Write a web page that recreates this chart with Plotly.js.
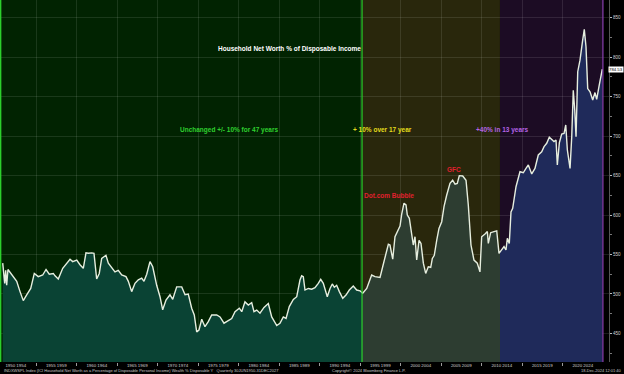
<!DOCTYPE html>
<html>
<head>
<meta charset="utf-8">
<script src="https://cdn.plot.ly/plotly-3.0.1.min.js"></script>
<style>
html,body{margin:0;padding:0;background:#000;}
#chart{width:624px;height:374px;}
</style>
</head>
<body>
<div id="chart"></div>
<script>
// Quarter-ish dates (decimal years) and Household Net Worth % of Disposable Income
const years = [
1950.89,1951.14,1951.26,1951.38,1951.54,1952.0,1952.41,1952.62,1953.03,1953.43,1953.85,1954.35,1954.79,
1955.28,1955.83,1956.24,1956.64,1957.14,1957.35,1957.75,1958.3,1958.79,1959.2,1959.53,1960.03,1960.43,1960.84,
1961.17,1961.46,1961.88,1962.16,1962.49,1962.81,1963.11,1963.64,1963.93,1964.35,1964.75,1965.16,1965.58,
1966.11,1966.4,1966.81,1967.22,1967.63,1968.05,1968.33,1968.67,1969.07,1969.41,1969.9,1970.31,1970.64,
1971.05,1971.54,1971.88,1972.37,1972.99,1973.4,1973.8,1974.22,1974.54,1974.84,1975.12,1975.46,1975.86,
1976.27,1976.69,1977.31,1977.72,1978.21,1978.74,1979.16,1979.57,1980.1,1980.4,1980.8,1981.21,1981.63,1981.91,
1982.25,1982.65,1983.15,1983.68,1984.1,1984.72,1985.12,1985.53,1985.87,1986.27,1986.77,1987.19,1987.59,1987.8,
1988.0,1988.21,1988.62,1989.04,1989.44,1989.85,1990.15,1990.47,1990.68,1990.96,1991.3,1991.58,1991.83,1992.12,
1992.45,1992.87,1993.27,1993.68,1994.17,1994.59,1995.0,1995.33,1995.83,1996.44,1996.85,1997.47,1997.8,1998.12,
1998.5,1998.7,1999.04,1999.32,1999.73,1999.94,2000.15,2000.43,2000.68,2000.84,2001.09,2001.38,2001.58,2001.79,
2002.0,2002.29,2002.53,2002.82,2003.11,2003.43,2003.73,2003.93,2004.17,2004.47,2004.75,2005.09,2005.37,2005.7,
2006.11,2006.44,2006.73,2007.01,2007.26,2007.68,2008.09,2008.37,2008.7,2009.07,2009.48,2009.81,2010.02,2010.43,
2010.72,2010.84,2011.13,2011.54,2011.88,2012.16,2012.49,2012.78,2013.02,2013.19,2013.43,2013.64,2013.85,2014.26,
2014.75,2015.16,2015.49,2015.78,2016.2,2016.6,2017.01,2017.43,2017.72,2018.05,2018.37,2018.67,2018.95,2019.2,
2019.36,2019.61,2019.9,2020.19,2020.4,2020.6,2020.93,2021.14,2021.33,2021.51,2021.67,2021.88,2022.16,2022.49,
2022.69,2022.9,2023.11,2023.4,2023.73,2024.01,2024.22,2024.54,2024.91
];
const netWorthPct = [
539,513.5,530,511,531,524,519,516,503,491.6,499,507,526,
522,524,531,525,526,523,519,532.5,539,544,541,543,537,532.5,
552,551.5,552,551.5,519,526,545,549,539,532.5,528,530,524,
522,516,503,513.5,518,520,516,525,541,534.5,511,496.6,480,
492.4,499,493.3,509,509,499,500,482,473.4,452,454.4,468,458.6,
465,473.4,473.4,471,463,466,469,477.6,482,477.6,490,486,489,477.6,
479.7,475.6,483,488,471,460,463,471,469,484,493,496.6,517.7,523,
522,505,507,506,508,513.5,518.6,513.5,507,496.6,507,512.7,508.5,511,
503,494.6,498.7,505,510,505,504,501,507,524,522,521,534.5,547,
563,562,544,572.5,580.4,586,601,615,612.7,600,595.8,572.5,562,572.5,
543,568,564,539,526,534.5,533.8,545,549,568,583,591.5,610.5,625,
640,644,639,640,649.8,649.4,644,612.7,562,543,539,528,572.5,576,
579,564,577.6,579,580,551.5,556.6,560,555.7,570.5,564,604,608.5,635.8,
654.8,653.5,659,663.3,652,659,676,680,686.5,690.8,698.4,695,693,695,
663.3,691.5,702.5,703.4,714,682.3,659,699,758,733,699,781.4,796,821.5,
835,813,760,756,745.6,755,746.5,764.6,784.53
];

// Regime periods (years)
const periodStart = [1950.556, 1995.25, 2012.28];
const periodEnd   = [1995.25, 2012.28, 2024.99];
const periodBg    = ['#012301', '#29270c', '#1c0c24'];
const periodFill  = ['#0a4334', '#2d3d31', '#1f2a5a'];

// Axis ticks
const yTicks = [450,500,550,600,650,700,750,800,850];
const xGrid = [1955,1960,1965,1970,1975,1980,1985,1990,1995,2000,2005,2010,2015,2020];
const xLabelPos = [1952.5,1957.5,1962.5,1967.5,1972.5,1977.5,1982.5,1987.5,1992.5,1997.5,2002.5,2007.5,2012.5,2017.5,2022.5];
const xLabelText = ['1950 1954','1955 1959','1960 1964','1965 1969','1970 1974','1975 1979','1980 1984','1985 1989',
  '1990 1994','1995 1999','2000 2004','2005 2009','2010 2014','2015 2019','2020 2024'];

const xRange = [1950.556, 2025.74];
const yRange = [413.9, 872.2];

// Build gradient stops for the area fill by period
const span = xRange[1] - xRange[0];
const cs = [];
for (let i = 0; i < periodStart.length; i++) {
  const a = Math.max(0, (periodStart[i] - xRange[0]) / span);
  const b = Math.min(1, (periodEnd[i] - xRange[0]) / span);
  cs.push([i === 0 ? 0 : a, periodFill[i]]);
  cs.push([b, periodFill[i]]);
}
cs.push([1, '#000000']);

const shapes = [];
for (let i = 0; i < periodStart.length; i++) {
  shapes.push({type:'rect', layer:'below', xref:'x', yref:'paper',
    x0: periodStart[i], x1: periodEnd[i], y0: 0, y1: 1,
    fillcolor: periodBg[i], line:{width:0}});
}
shapes.push({type:'line', layer:'above', xref:'x', yref:'paper', x0: periodStart[1], x1: periodStart[1], y0:0, y1:1,
  line:{color:'#2ccf2c', width:1.2}});
shapes.push({type:'line', layer:'above', xref:'x', yref:'paper', x0: periodEnd[2], x1: periodEnd[2], y0:0, y1:1,
  line:{color:'#8a3fb0', width:1.2}});
shapes.push({type:'line', layer:'above', xref:'paper', yref:'paper', x0: 0.001, x1: 0.001, y0:0, y1:1,
  line:{color:'#2ccf2c', width:1.5}});

const fnt = 'Liberation Sans, Arial, sans-serif';
const lastVal = netWorthPct[netWorthPct.length-1];

const traces = [{
  type:'scatter', mode:'lines', x: years, y: netWorthPct,
  fill:'tozeroy',
  fillgradient:{type:'horizontal', start: xRange[0], stop: xRange[1], colorscale: cs},
  line:{color:'#e6eedf', width:1.4, shape:'linear'},
  hoverinfo:'skip', showlegend:false
}];

const annotations = [
  {text:'<b>Household Net Worth % of Disposable Income</b>', x:0.475, y:0.882, xref:'paper', yref:'paper',
   showarrow:false, font:{family:fnt, size:6.5, color:'#ffffff'}},
  {text:'<b>Unchanged +/- 10% for 47 years</b>', x:0.292, y:0.641, xref:'paper', yref:'paper',
   showarrow:false, font:{family:fnt, size:6.5, color:'#2fd02f'}},
  {text:'<b>+ 10% over 17 year</b>', x:0.68, y:0.641, xref:'paper', yref:'paper',
   showarrow:false, font:{family:fnt, size:6.5, color:'#e4dc1c'}},
  {text:'<b>+40% in 13 years</b>', x:0.872, y:0.641, xref:'paper', yref:'paper',
   showarrow:false, font:{family:fnt, size:6.5, color:'#b463e6'}},
  {text:'<b>Dot.com Bubble</b>', x:0.683, y:0.459, xref:'paper', yref:'paper',
   showarrow:false, font:{family:fnt, size:6.5, color:'#e0202e'}},
  {text:'<b>GFC</b>', x:0.761, y:0.533, xref:'paper', yref:'paper',
   showarrow:false, font:{family:fnt, size:6.5, color:'#e0202e'}},
  {text: String(lastVal), x:1.024, xanchor:'right', xref:'paper', y: lastVal, yref:'y',
   showarrow:false, bgcolor:'#ffffff', borderpad:0, font:{family:fnt, size:4.3, color:'#000000'}},
  {text:'INDXWSPL Index (ICI Household Net Worth as a Percentage of Disposable Personal Income) Wealth % Disposable Y   Quarterly 30JUN1950-31DEC2027',
   x:0.003, xanchor:'left', y:-0.0225, yanchor:'middle', xref:'paper', yref:'paper', showarrow:false,
   font:{family:fnt, size:4, color:'#c8c8c8'}},
  {text:'Copyright\u00a9 2024 Bloomberg Finance L.P.', x:0.67, y:-0.0225, yanchor:'middle', xref:'paper', yref:'paper', showarrow:false,
   font:{family:fnt, size:4, color:'#c8c8c8'}},
  {text:'18-Dec-2024 12:01:40', x:1.024, xanchor:'right', y:-0.0225, yanchor:'middle', xref:'paper', yref:'paper', showarrow:false,
   font:{family:fnt, size:4, color:'#c8c8c8'}}
];

const layout = {
  width:624, height:374,
  margin:{l:0, r:15, t:0, b:12, pad:0},
  paper_bgcolor:'#000000', plot_bgcolor:'#000000',
  showlegend:false,
  xaxis:{range:xRange, tickmode:'array', tickvals:xLabelPos, ticktext:xLabelText,
    showgrid:false, zeroline:false, ticks:'', ticklen:0,
    tickfont:{family:fnt, size:4.4, color:'#d0d0d0'},
    minor:{tickmode:'array', tickvals:xGrid, showgrid:true, gridcolor:'rgba(255,255,255,0.10)', gridwidth:1,
      ticks:'outside', ticklen:3, tickcolor:'#9a9a9a'},
    showline:false, fixedrange:true},
  yaxis:{range:yRange, side:'right', tickmode:'array', tickvals:yTicks, ticktext:yTicks.map(String),
    showgrid:true, gridcolor:'rgba(255,255,255,0.10)', gridwidth:1, zeroline:false,
    ticks:'outside', ticklen:2, tickcolor:'#bbbbbb',
    tickfont:{family:fnt, size:4.6, color:'#d0d0d0'},
    minor:{dtick:25, tick0:0, ticks:'outside', ticklen:2, tickcolor:'#777777', showgrid:false},
    showline:true, linecolor:'#555555', linewidth:1, fixedrange:true},
  shapes: shapes,
  annotations: annotations
};

Plotly.newPlot('chart', traces, layout, {displayModeBar:false, staticPlot:true});
</script>
</body>
</html>
